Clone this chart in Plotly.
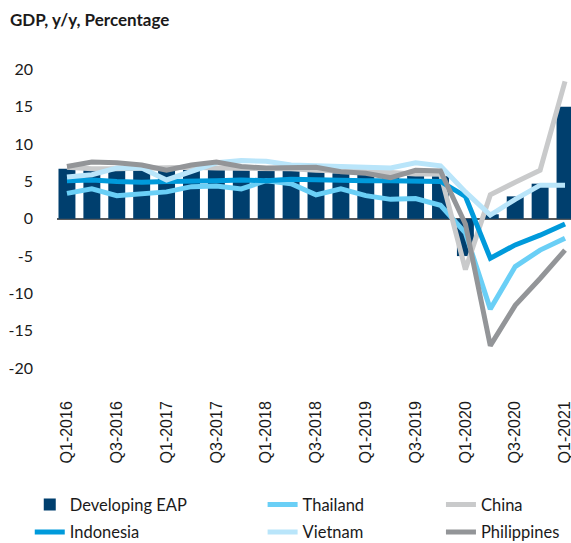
import plotly.graph_objects as go

quarters = [f"Q{q}-{y}" for y in range(2016, 2022) for q in (1, 2, 3, 4)][:21]
tick_labels = quarters[::2]
y_ticks = [-20, -15, -10, -5, 0, 5, 10, 15, 20]
y_tick_text = ["-20", "-15", "-10", "-5", "0", "5", "10", "15", "20"]

eap = [6.7, 6.6, 6.6, 6.5, 6.6, 6.6, 6.7, 6.6, 6.6, 6.5, 6.3, 6.1, 6.0, 5.9, 5.8, 5.7,
       -5.0, 0.6, 3.0, 4.7, 15.0]
thailand = [3.4, 4.0, 3.1, 3.3, 3.6, 4.3, 4.4, 4.0, 5.1, 4.7, 3.2, 4.0, 3.1, 2.6, 2.7, 1.8,
            -1.9, -12.1, -6.4, -4.2, -2.6]
china = [6.9, 6.7, 6.7, 6.8, 6.9, 6.9, 6.8, 6.8, 6.8, 6.7, 6.5, 6.4, 6.4, 6.2, 6.0, 6.0,
         -6.8, 3.2, 4.9, 6.5, 18.4]
indonesia = [5.1, 5.2, 5.0, 4.9, 5.0, 5.0, 5.1, 5.2, 5.1, 5.3, 5.2, 5.2, 5.1, 5.1, 5.0, 5.0,
             3.0, -5.3, -3.5, -2.2, -0.7]
vietnam = [5.6, 5.9, 6.8, 6.8, 5.2, 6.3, 7.5, 7.8, 7.7, 7.2, 7.1, 7.1, 6.9, 6.8, 7.5, 7.1,
           3.6, 0.5, 2.6, 4.5, 4.5]
philippines = [7.0, 7.6, 7.5, 7.2, 6.5, 7.2, 7.6, 7.0, 6.8, 6.8, 6.9, 6.3, 6.1, 5.5, 6.5, 6.4,
               -0.7, -17.0, -11.6, -8.0, -4.2]

C_EAP = "#003F6E"
C_THA = "#6ACFF6"
C_CHN = "#C9CACB"
C_IDN = "#009ADB"
C_VNM = "#B9E5FA"
C_PHL = "#939598"

fig = go.Figure()
fig.add_trace(go.Bar(x=quarters, y=eap, name="Developing EAP", marker_color=C_EAP,
                     marker_line_width=0, legend="legend", legendgroup="eap"))
lw = 5
series = [("Thailand", thailand, C_THA, "legend2"),
          ("China", china, C_CHN, "legend3"),
          ("Indonesia", indonesia, C_IDN, "legend"),
          ("Vietnam", vietnam, C_VNM, "legend2"),
          ("Philippines", philippines, C_PHL, "legend3")]
for name, vals, col, leg in series:
    fig.add_trace(go.Scatter(x=quarters, y=vals, name=name, mode="lines",
                             line=dict(color=col, width=lw), legend=leg, legendgroup=name))

leg_common = dict(orientation="v", yanchor="top", xanchor="left", bgcolor="rgba(0,0,0,0)",
                  font=dict(family="Lato", size=16.5, color="#1a1a1a"), traceorder="grouped",
                  tracegroupgap=3, itemwidth=30)
ly = -0.325
fig.update_layout(
    width=571, height=543,
    margin=dict(l=57, r=0, t=62, b=160, autoexpand=False),
    paper_bgcolor="white", plot_bgcolor="white",
    bargap=0.32,
    showlegend=True,
    title=dict(text="<b>GDP, y/y, Percentage</b>", x=10/571, xref="container", xanchor="left",
               y=1-20/543, yref="container", yanchor="middle",
               font=dict(family="Lato", size=17, color="#1a1a1a")),
    legend=dict(x=-0.053, y=ly, **leg_common),
    legend2=dict(x=0.400, y=ly, **leg_common),
    legend3=dict(x=0.747, y=ly, **leg_common),
    xaxis=dict(type="category", range=[-0.4, 20.24], tickmode="array", tickvals=tick_labels,
               ticktext=tick_labels, tickangle=-90, showgrid=False, showline=False,
               zeroline=False, ticks="", ticklabelstandoff=14,
               tickfont=dict(family="Liberation Sans", size=16, color="#1a1a1a")),
    yaxis=dict(range=[-22, 21], tickmode="array", tickvals=y_ticks, ticktext=y_tick_text,
               showgrid=False, showline=False, zeroline=True, zerolinecolor="#58595B",
               zerolinewidth=1.5, ticks="", ticklabelstandoff=23,
               tickfont=dict(family="Lato", size=16, color="#1a1a1a")),
)

fig.write_html("out.html", post_script="document.body.style.margin='0px';",
               config={"displayModeBar": False})
